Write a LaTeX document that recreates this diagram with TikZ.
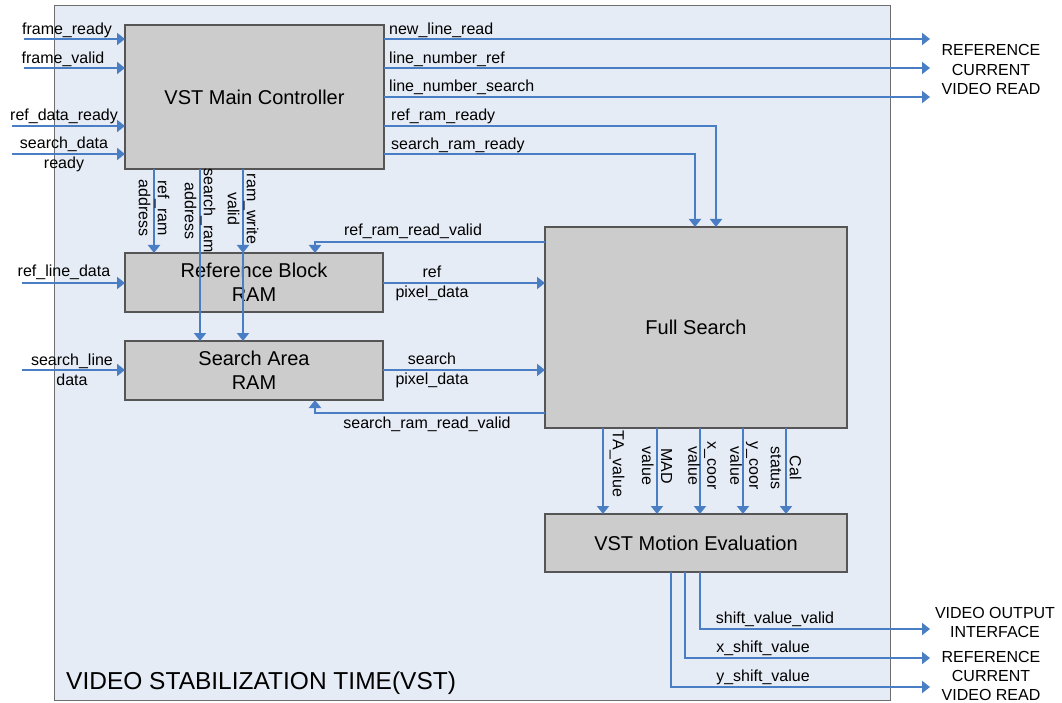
\documentclass[tikz,border=0pt]{standalone}
\usepackage{fontspec}
\setmainfont{Liberation Sans}
\usetikzlibrary{arrows.meta}
\definecolor{bgblue}{RGB}{230,236,246}
\definecolor{boxgray}{RGB}{204,204,204}
\definecolor{sigblue}{RGB}{74,126,196}
\definecolor{edgegray}{RGB}{85,85,85}
\definecolor{frameedge}{RGB}{110,110,110}
\begin{document}
\begin{tikzpicture}[x=1pt,y=-1pt,
  box/.style={draw=edgegray, line width=1.2pt, fill=boxgray, align=center,
    inner sep=0pt, outer sep=0pt, font=\fontsize{20}{24}\selectfont},
  sig/.style={draw=sigblue, line width=2.5pt, -{Triangle[length=8pt,width=12pt]}},
  lbl/.style={inner sep=0pt, align=center, font=\fontsize{16}{20}\selectfont},
  vlbl/.style={lbl, rotate=-90, font=\fontsize{16}{19}\selectfont},
  ext/.style={lbl, font=\fontsize{16}{19.5}\selectfont}]
\useasboundingbox (0,0) rectangle (1062,703);

% enclosing system block
\node[draw=frameedge, line width=1pt, fill=bgblue, minimum width=836pt, minimum height=694pt,
  inner sep=0pt, outer sep=0pt, anchor=north west] (vst) at (54,6) {};
\node[lbl, anchor=west, font=\fontsize{24.5}{28}\selectfont] (vstname) at (66,683) {VIDEO STABILIZATION TIME(VST)};

% functional blocks
\node[box, minimum width=259pt, minimum height=144pt] (mc) at (254.5,97) {VST Main Controller};
\node[box, minimum width=258pt, minimum height=59pt] (rb) at (254,282.5) {Reference Block\\RAM};
\node[box, minimum width=258pt, minimum height=59pt] (sa) at (254,370.5) {Search Area\\RAM};
\node[box, minimum width=302pt, minimum height=201pt] (fs) at (696,327.5) {Full Search};
\node[box, minimum width=302pt, minimum height=58pt] (me) at (696,543) {VST Motion Evaluation};

% external inputs
\coordinate (inFR) at (24,39);
\coordinate (inFV) at (24,68);
\coordinate (inRD) at (12,126);
\coordinate (inSD) at (12,154);
\coordinate (inRL) at (22,283);
\coordinate (inSL) at (22,370);
\draw[sig] (inFR) -- (inFR -| mc.west);
\draw[sig] (inFV) -- (inFV -| mc.west);
\draw[sig] (inRD) -- (inRD -| mc.west);
\draw[sig] (inSD) -- (inSD -| mc.west);
\draw[sig] (inRL) -- (inRL -| rb.west);
\draw[sig] (inSL) -- (inSL -| sa.west);
\node[lbl] (lFR) at (67,30) {frame\_ready};
\node[lbl] (lFV) at (63,59) {frame\_valid};
\node[lbl] (lRD) at (64,116) {ref\_data\_ready};
\node[lbl] (lSD) at (64,154) {search\_data\\ready};
\node[lbl] (lRL) at (64,272) {ref\_line\_data};
\node[lbl] (lSL) at (72,370) {search\_line\\data};

% controller outputs to the outside
\coordinate (oNL) at (930,39);
\coordinate (oLR) at (930,68);
\coordinate (oLS) at (930,97);
\draw[sig] (oNL -| mc.east) -- (oNL);
\draw[sig] (oLR -| mc.east) -- (oLR);
\draw[sig] (oLS -| mc.east) -- (oLS);
\node[lbl, anchor=west] (lNL) at (389,30) {new\_line\_read};
\node[lbl, anchor=west] (lLR) at (389,59) {line\_number\_ref};
\node[lbl, anchor=west] (lLS) at (389,87) {line\_number\_search};
\node[ext] (extTop) at (991,69.5) {REFERENCE\\CURRENT\\VIDEO READ};

% ram ready signals to the full search
\coordinate (cRR) at (716,126);
\coordinate (cSR) at (695,154);
\draw[sig] (cRR -| mc.east) -- (cRR) -- (cRR |- fs.north);
\draw[sig] (cSR -| mc.east) -- (cSR) -- (cSR |- fs.north);
\node[lbl, anchor=west] (lRR) at (391,116) {ref\_ram\_ready};
\node[lbl, anchor=west] (lSR) at (391,145) {search\_ram\_ready};

% address and write enables to the RAMs
\coordinate (xRA) at (154,0);
\coordinate (xSA) at (200,0);
\coordinate (xWV) at (243,0);
\draw[sig] (xRA |- mc.south) -- (xRA |- rb.north);
\draw[sig] (xSA |- mc.south) -- (xSA |- sa.north);
\draw[sig] (xWV |- mc.south) -- (xWV |- rb.north);
\draw[sig] (xWV |- mc.south) -- (xWV |- sa.north);
\node[vlbl] (lRA) at (154,208) {ref\_ram\\address};
\node[vlbl] (lSA) at (200,211) {search\_ram\\address};
\node[vlbl] (lWV) at (243,209) {ram\_write\\valid};

% read-valid feedback from the full search
\coordinate (cRV) at (315,242);
\coordinate (cSV) at (315,413);
\draw[sig] (cRV -| fs.west) -- (cRV) -- (cRV |- rb.north);
\draw[sig] (cSV -| fs.west) -- (cSV) -- (cSV |- sa.south);
\node[lbl] (lRV) at (413,231) {ref\_ram\_read\_valid};
\node[lbl] (lSV) at (427,424) {search\_ram\_read\_valid};

% pixel data into the full search
\draw[sig] (rb.east |- inRL) -- (fs.west |- inRL);
\draw[sig] (sa.east |- inSL) -- (fs.west |- inSL);
\node[lbl] (lRP) at (432,283) {ref\\pixel\_data};
\node[lbl] (lSP) at (432,370) {search\\pixel\_data};

% full search results to motion evaluation
\coordinate (xTA) at (603,0);
\coordinate (xMA) at (657,0);
\coordinate (xXC) at (700,0);
\coordinate (xYC) at (743,0);
\coordinate (xCS) at (786,0);
\draw[sig] (xTA |- fs.south) -- (xTA |- me.north);
\draw[sig] (xMA |- fs.south) -- (xMA |- me.north);
\draw[sig] (xXC |- fs.south) -- (xXC |- me.north);
\draw[sig] (xYC |- fs.south) -- (xYC |- me.north);
\draw[sig] (xCS |- fs.south) -- (xCS |- me.north);
\node[vlbl] (lTA) at (617,464) {TA\_value};
\node[vlbl] (lMA) at (657,466) {MAD\\value};
\node[vlbl] (lXC) at (702,466) {x\_coor\\value};
\node[vlbl] (lYC) at (744,466) {y\_coor\\value};
\node[vlbl] (lCS) at (786,468) {Cal\\status};

% motion evaluation outputs
\coordinate (oSV) at (930,629);
\coordinate (oXS) at (930,658);
\coordinate (oYS) at (930,687);
\coordinate (xSV) at (700,0);
\coordinate (xXS) at (685,0);
\coordinate (xYS) at (671,0);
\draw[sig] (xSV |- me.south) -- (xSV |- oSV) -- (oSV);
\draw[sig] (xXS |- me.south) -- (xXS |- oXS) -- (oXS);
\draw[sig] (xYS |- me.south) -- (xYS |- oYS) -- (oYS);
\node[lbl] (lSVV) at (775,619) {shift\_value\_valid};
\node[lbl] (lXS) at (763,648) {x\_shift\_value};
\node[lbl] (lYS) at (763,677) {y\_shift\_value};
\node[ext] (extVO) at (995,622.5) {VIDEO OUTPUT\\INTERFACE};
\node[ext, font=\fontsize{16}{19}\selectfont] (extBot) at (991,675.5) {REFERENCE\\CURRENT\\VIDEO READ};
\end{tikzpicture}
\end{document}
